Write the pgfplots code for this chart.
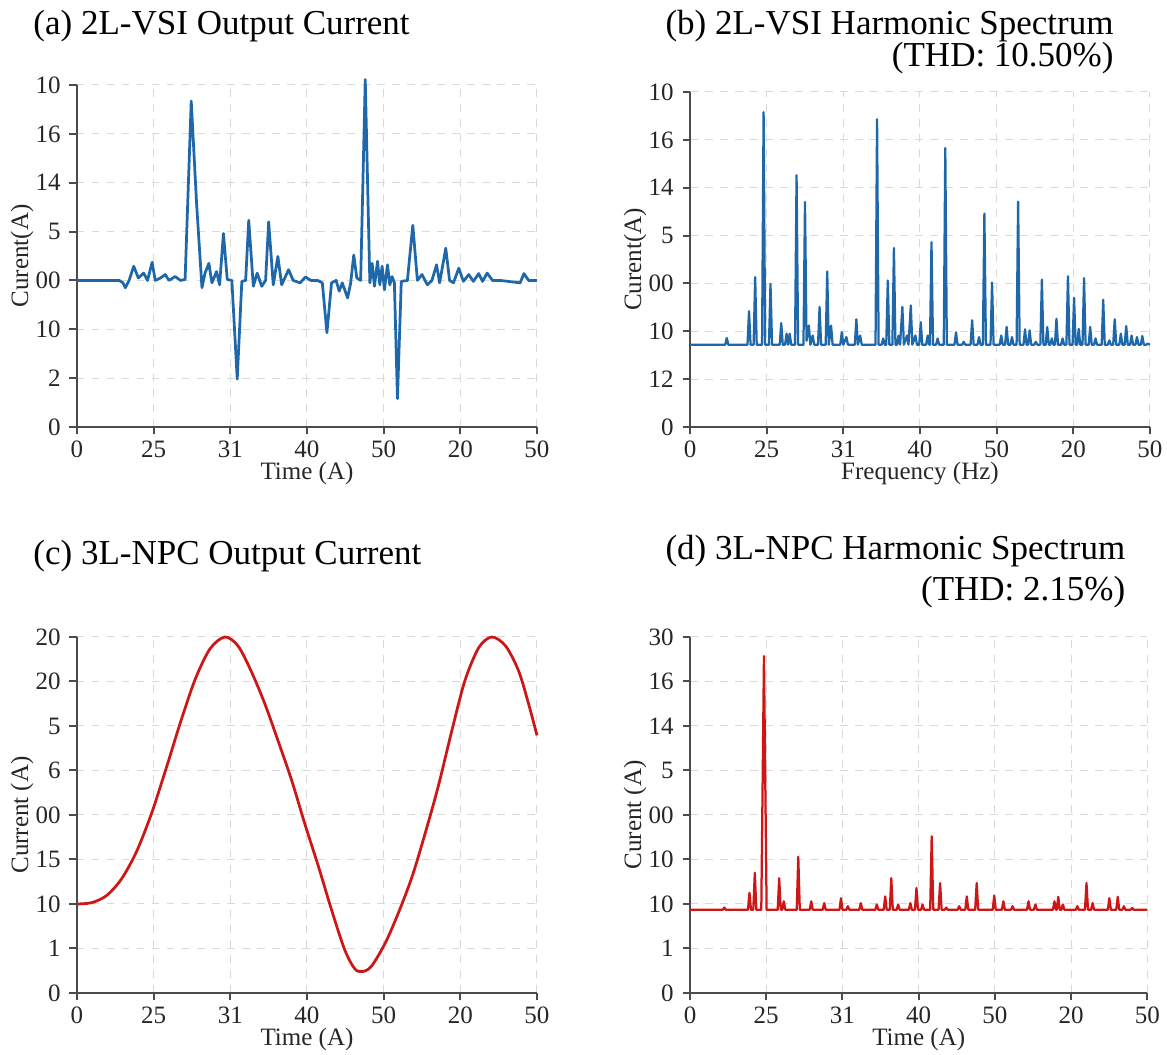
\documentclass[border=0pt]{standalone}
\usepackage{fontspec}
\setmainfont{Liberation Serif}
\usepackage{pgfplots}
\pgfplotsset{compat=1.18}
\definecolor{bl}{RGB}{30,104,170}
\definecolor{rd}{RGB}{205,22,22}
\definecolor{axc}{RGB}{75,75,75}
\pgfplotsset{
  panel/.style={
    scale only axis,
    xmin=0,xmax=6,ymin=0,
    axis lines*=left,
    axis line style={axc,line width=0.9pt,-},
    tick align=outside,
    major tick length=3pt,
    tick style={axc,line width=0.8pt},
    xtick={0,...,6},
    xticklabels={0,25,31,40,50,20,50},
    grid=major,
    grid style={dashed,gray!30,line width=0.4pt},
    tick label style={font=\fontsize{10}{11}\selectfont, text=black!85},
    label style={font=\fontsize{10}{11}\selectfont, text=black!85},
    /pgf/number format/assume math mode=true,
    xticklabel style={yshift=1pt},
    xlabel style={yshift=5pt},
    ylabel style={yshift=-6pt},
    clip=false,
  }
}
\begin{document}
\begin{tikzpicture}
\useasboundingbox (0,0) rectangle (466.8pt,422pt);
% titles
\node[anchor=north west,inner sep=0pt,font=\fontsize{14}{14}\selectfont] at (13.2pt,418pt) {(a) 2L-VSI Output Current};
\node[anchor=north west,inner sep=0pt,align=right,font=\fontsize{14}{12.8}\selectfont] at (266pt,418pt) {(b) 2L-VSI Harmonic Spectrum\\(THD: 10.50\%)};
\node[anchor=north west,inner sep=0pt,font=\fontsize{14}{14}\selectfont] at (13.2pt,206pt) {(c) 3L-NPC Output Current};
\node[anchor=north west,inner sep=0pt,align=right,font=\fontsize{14}{16.2}\selectfont] at (266pt,208pt) {(d) 3L-NPC Harmonic Spectrum\\(THD: 2.15\%)};

% (a)
\begin{axis}[panel, at={(30.8pt,251.2pt)}, anchor=south west,
  width=184pt, height=136.8pt, ymax=7,
  ytick={0,...,7}, yticklabels={0,2,10,00,5,14,16,10},
  xlabel={Time (A)}, ylabel={Curent(A)}]
\addplot[bl, line width=1.1pt, line join=round] coordinates {
(0,3.0) (0.3,3.0) (0.55,3.0) (0.6,2.95) (0.63,2.85) (0.68,3.0) (0.74,3.29) (0.80,3.05) (0.87,3.15) (0.92,3.0) (0.98,3.37) (1.02,3.0) (1.09,3.05) (1.15,3.12) (1.2,3.0) (1.28,3.08) (1.35,3.0) (1.41,3.02) (1.49,6.67) (1.56,4.57) (1.63,2.85) (1.67,3.15) (1.72,3.35) (1.76,2.95) (1.82,3.18) (1.86,2.91) (1.91,3.96) (1.96,3.02) (2.02,3.0) (2.09,0.98) (2.15,2.98) (2.20,3.0) (2.24,4.23) (2.30,2.88) (2.35,3.15) (2.41,2.88) (2.46,3.0) (2.50,4.2) (2.56,2.91) (2.62,3.49) (2.67,2.91) (2.76,3.22) (2.82,3.0) (2.91,2.95) (2.98,3.07) (3.05,3.0) (3.14,3.0) (3.2,2.95) (3.26,1.93) (3.32,2.95) (3.38,3.0) (3.42,2.78) (3.46,2.95) (3.53,2.64) (3.57,2.95) (3.61,3.52) (3.65,3.05) (3.70,3.0) (3.76,7.11) (3.82,2.95) (3.85,3.35) (3.88,2.88) (3.92,3.39) (3.95,2.91) (3.98,3.29) (4.01,2.81) (4.05,3.32) (4.08,2.91) (4.11,3.08) (4.14,2.95) (4.18,0.58) (4.23,2.98) (4.31,3.0) (4.38,4.13) (4.44,3.0) (4.50,3.12) (4.57,2.91) (4.63,3.0) (4.69,3.32) (4.73,2.95) (4.81,3.66) (4.86,3.0) (4.91,2.95) (4.98,3.25) (5.04,2.98) (5.11,3.12) (5.17,2.98) (5.24,3.14) (5.29,2.98) (5.35,3.15) (5.42,3.0) (5.52,3.0) (5.78,2.95) (5.83,3.14) (5.89,3.0) (6.0,3.0)
};
\end{axis}

% (b)
\begin{axis}[panel, at={(276pt,251.2pt)}, anchor=south west,
  width=184pt, height=134pt, ymax=7,
  ytick={0,...,7}, yticklabels={0,12,10,00,5,14,16,10},
  xlabel={Frequency (Hz)}, ylabel={Curent(A)}]
\addplot[bl, line width=0.9pt, line join=round] coordinates {
(0,1.72) (0.46,1.72) (0.48,1.86) (0.50,1.72)
(0.75,1.72) (0.77,2.42) (0.79,1.72)
(0.83,1.72) (0.85,3.13) (0.87,1.72)
(0.94,1.72) (0.96,6.58) (0.98,1.72)
(1.03,1.72) (1.05,2.99) (1.07,1.72)
(1.17,1.72) (1.19,2.17) (1.21,1.72)
(1.24,1.72) (1.26,1.95) (1.28,1.72) (1.30,1.95) (1.32,1.72)
(1.37,1.72) (1.39,5.26) (1.41,1.72)
(1.48,1.72) (1.50,4.70) (1.52,1.80) (1.55,2.12) (1.57,1.72) (1.60,1.91) (1.62,1.72)
(1.67,1.72) (1.69,2.51) (1.71,1.72)
(1.77,1.72) (1.79,3.25) (1.81,1.72) (1.84,2.12) (1.86,1.72)
(1.96,1.72) (1.98,1.98) (2.00,1.72) (2.04,1.88) (2.06,1.72)
(2.15,1.72) (2.17,2.25) (2.19,1.72) (2.22,1.91) (2.24,1.72)
(2.42,1.72) (2.44,6.43) (2.46,1.72)
(2.50,1.72) (2.52,1.85) (2.54,1.72)
(2.56,1.72) (2.58,3.06) (2.60,1.72)
(2.64,1.72) (2.66,3.74) (2.68,1.72)
(2.70,1.72) (2.72,1.91) (2.74,1.72) (2.77,2.51) (2.79,1.72) (2.83,1.91) (2.85,1.72) (2.88,2.54) (2.90,1.72) (2.94,1.91) (2.96,1.72)
(2.99,1.72) (3.01,2.19) (3.03,1.72)
(3.08,1.72) (3.10,1.91) (3.12,1.72)
(3.13,1.72) (3.15,3.86) (3.17,1.72)
(3.21,1.72) (3.23,1.85) (3.25,1.72)
(3.31,1.72) (3.33,5.83) (3.35,1.72)
(3.45,1.72) (3.47,1.98) (3.49,1.72)
(3.55,1.72) (3.57,1.78) (3.59,1.72)
(3.66,1.72) (3.68,2.23) (3.70,1.72)
(3.75,1.72) (3.77,1.88) (3.79,1.72)
(3.82,1.72) (3.84,4.46) (3.86,1.72)
(3.92,1.72) (3.94,3.02) (3.96,1.72)
(4.04,1.72) (4.06,1.91) (4.08,1.72) (4.11,1.72) (4.13,2.09) (4.15,1.72) (4.18,1.72) (4.20,1.88) (4.22,1.72)
(4.26,1.72) (4.28,4.71) (4.30,1.72)
(4.35,1.72) (4.37,2.04) (4.39,1.72) (4.41,1.72) (4.43,2.02) (4.45,1.72) (4.49,1.72) (4.51,1.78) (4.53,1.72)
(4.57,1.72) (4.59,3.08) (4.61,1.72)
(4.64,1.72) (4.66,2.09) (4.68,1.72) (4.70,1.72) (4.72,1.85) (4.74,1.72) (4.76,1.72) (4.78,2.26) (4.80,1.72) (4.84,1.72) (4.86,1.85) (4.88,1.72)
(4.91,1.72) (4.93,3.15) (4.95,1.72)
(4.99,1.72) (5.01,2.70) (5.03,1.72)
(5.05,1.72) (5.07,2.05) (5.09,1.72)
(5.12,1.72) (5.14,3.11) (5.16,1.72)
(5.20,1.72) (5.22,2.09) (5.24,1.72) (5.27,1.72) (5.29,1.85) (5.31,1.72)
(5.37,1.72) (5.39,2.66) (5.41,1.72)
(5.45,1.72) (5.47,1.81) (5.49,1.72) (5.52,1.72) (5.54,2.25) (5.56,1.72) (5.60,1.72) (5.62,1.95) (5.64,1.72) (5.67,1.72) (5.69,2.11) (5.71,1.72) (5.74,1.72) (5.76,1.91) (5.78,1.72) (5.81,1.72) (5.83,1.88) (5.85,1.72) (5.88,1.72) (5.90,1.90) (5.92,1.72) (5.95,1.72) (5.97,1.74) (6,1.72)
};
\end{axis}

% (c)
\begin{axis}[panel, at={(30.8pt,24.8pt)}, anchor=south west,
  width=184pt, height=142.4pt, ymax=8,
  ytick={0,...,8}, yticklabels={0,1,10,15,00,6,5,20,20},
  xlabel={Time (A)}, ylabel={Current (A)}]
\addplot[rd, line width=1.1pt, smooth] coordinates {
(0,2.0) (0.193,2.03) (0.386,2.19) (0.579,2.56) (0.772,3.16) (0.965,4.0) (1.158,5.02) (1.351,6.09) (1.544,7.06) (1.737,7.74) (1.93,8.0) (2.10,7.8) (2.27,7.24) (2.45,6.5) (2.62,5.68) (2.80,4.78) (2.97,3.81) (3.15,2.84) (3.32,1.87) (3.49,0.98) (3.62,0.55) (3.72,0.48) (3.84,0.6) (4.02,1.12) (4.19,1.79) (4.37,2.61) (4.54,3.58) (4.71,4.63) (4.89,5.9) (5.06,7.02) (5.24,7.76) (5.41,8.0) (5.59,7.8) (5.76,7.24) (5.89,6.5) (6.0,5.79)
};
\end{axis}

% (d)
\begin{axis}[panel, at={(276pt,24.8pt)}, anchor=south west,
  width=183pt, height=142.4pt, ymax=8,
  ytick={0,...,8}, yticklabels={0,1,10,10,00,5,14,16,30},
  xlabel={Time (A)}, ylabel={Curent (A)}]
\addplot[rd, line width=0.9pt, line join=round] coordinates {
(0,1.87) (0.43,1.87) (0.45,1.92) (0.47,1.87)
(0.76,1.87) (0.78,2.25) (0.80,1.87)
(0.83,1.87) (0.85,2.70) (0.87,1.87)
(0.935,1.87) (0.97,7.57) (1.005,1.87)
(1.15,1.87) (1.17,2.58) (1.19,1.87) (1.21,1.87) (1.23,2.06) (1.25,1.87)
(1.40,1.87) (1.42,3.06) (1.44,1.87)
(1.57,1.87) (1.59,2.06) (1.61,1.87)
(1.74,1.87) (1.76,2.02) (1.78,1.87)
(1.96,1.87) (1.98,2.13) (2.00,1.87) (2.05,1.87) (2.07,1.95) (2.09,1.87)
(2.22,1.87) (2.24,2.02) (2.26,1.87)
(2.43,1.87) (2.45,1.99) (2.47,1.87)
(2.54,1.87) (2.56,2.17) (2.58,1.87)
(2.62,1.87) (2.64,2.58) (2.66,1.87)
(2.71,1.87) (2.73,1.99) (2.75,1.87)
(2.87,1.87) (2.89,2.02) (2.91,1.87)
(2.95,1.87) (2.97,2.36) (2.99,1.87)
(3.03,1.87) (3.05,1.99) (3.07,1.87)
(3.15,1.87) (3.17,3.52) (3.19,1.87)
(3.26,1.87) (3.28,2.47) (3.30,1.87)
(3.34,1.87) (3.36,1.92) (3.38,1.87)
(3.51,1.87) (3.53,1.95) (3.55,1.87)
(3.61,1.87) (3.63,2.17) (3.65,1.87)
(3.74,1.87) (3.76,2.47) (3.78,1.87)
(3.97,1.87) (3.99,2.19) (4.01,1.87)
(4.09,1.87) (4.11,2.06) (4.13,1.87)
(4.21,1.87) (4.23,1.95) (4.25,1.87)
(4.42,1.87) (4.44,2.06) (4.46,1.87)
(4.51,1.87) (4.53,1.99) (4.55,1.87)
(4.76,1.87) (4.78,2.06) (4.80,1.87) (4.81,1.87) (4.83,2.16) (4.85,1.87) (4.87,1.87) (4.89,1.99) (4.91,1.87)
(5.06,1.87) (5.08,1.95) (5.10,1.87)
(5.18,1.87) (5.20,2.47) (5.22,1.87)
(5.26,1.87) (5.28,2.02) (5.30,1.87)
(5.48,1.87) (5.50,2.13) (5.52,1.87)
(5.59,1.87) (5.61,2.16) (5.63,1.87)
(5.67,1.87) (5.69,1.95) (5.71,1.87)
(5.78,1.87) (5.80,1.91) (5.82,1.87)
(6,1.87)
};
\end{axis}
\end{tikzpicture}
\end{document}
